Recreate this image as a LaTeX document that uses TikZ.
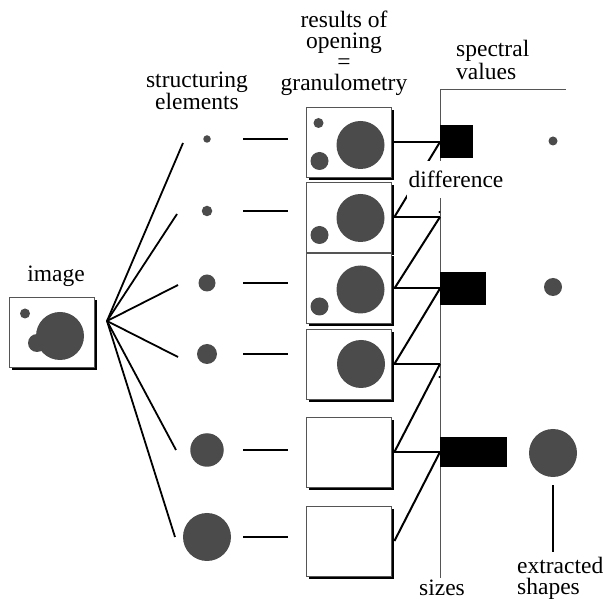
\documentclass[tikz,border=0pt]{standalone}
\usepackage{fontspec}
\setmainfont{Liberation Serif}
\newfontfamily\figfont{Liberation Serif}
\usetikzlibrary{positioning,shadows,calc}
\definecolor{blob}{HTML}{4B4B4B}
\definecolor{axisgray}{HTML}{555555}

\begin{document}
\begin{tikzpicture}[x=1pt, y=-1pt,
    lbl/.style={font=\figfont\fontsize{23.5}{21}\selectfont, inner sep=0pt, align=center},
    frame/.style={draw=axisgray, line width=0.8pt, fill=white, minimum width=85pt,
      minimum height=70pt, inner sep=0pt,
      drop shadow={shadow xshift=3pt, shadow yshift=-3pt, fill=black, opacity=1}},
    dot/.style={circle, fill=blob, inner sep=0pt},
    fan/.style={line width=1.8pt},
    bond/.style={line width=2.6pt},
    link/.style={line width=2pt},
    axis/.style={draw=axisgray, line width=0.9pt},
    bar/.style={fill=black, inner sep=0pt, anchor=west}
  ]
    \useasboundingbox (0,0) rectangle (603,601);
    % input image
    \node[frame] (img) at (51.5,332.5) {};
    \node[dot, minimum size=48pt] at ([shift={(8.5,3.5)}]img.center) {};
    \node[dot, minimum size=18pt] at ([shift={(-14.5,10.5)}]img.center) {};
    \node[dot, minimum size=10pt] at ([shift={(-26.5,-19)}]img.center) {};
    \node[lbl, anchor=base] (imgtxt) at (56,282) {image};
    % structuring elements
    \node[dot, minimum size=7.5pt] (s1) at (207,139) {};
    \node[dot, minimum size=10.5pt] (s2) at (207,211) {};
    \node[dot, minimum size=17pt] (s3) at (207,283) {};
    \node[dot, minimum size=20pt] (s4) at (207,354) {};
    \node[dot, minimum size=33.5pt] (s5) at (207,450) {};
    \node[dot, minimum size=48pt] (s6) at (207,537) {};
    \node[lbl] (setxt) at (197,91) {structuring\\elements};
    % results of opening
    \node[frame] (b1) at (348.5,142) {};
    \node[frame] (b2) at (348.5,217) {};
    \node[frame] (b3) at (348.5,288.5) {};
    \node[frame] (b4) at (348.5,364) {};
    \node[frame] (b5) at (348.5,452) {};
    \node[frame] (b6) at (348.5,541) {};
    \node[dot, minimum size=10pt] at ([shift={(-30,-19)}]b1.center) {};
    \node[dot, minimum size=18pt] at ([shift={(-29,19)}]b1.center) {};
    \node[dot, minimum size=48pt] at ([shift={(12,3)}]b1.center) {};
    \node[dot, minimum size=18pt] at ([shift={(-29,18)}]b2.center) {};
    \node[dot, minimum size=48pt] at ([shift={(12,1)}]b2.center) {};
    \node[dot, minimum size=18pt] at ([shift={(-29,18)}]b3.center) {};
    \node[dot, minimum size=48pt] at ([shift={(12,1)}]b3.center) {};
    \node[dot, minimum size=48pt] at ([shift={(12.5,0)}]b4.center) {};
    \node[lbl] (restxt) at (344,53) {results of\\opening\\=\\granulometry};
    % fan from image to elements
    \coordinate (hub) at (107,321);
    \coordinate (f1) at (183,143);
    \coordinate (f2) at (177,214);
    \coordinate (f3) at (178,285);
    \coordinate (f4) at (178,357);
    \coordinate (f5) at (176,450);
    \coordinate (f6) at (175,537);
    \draw[fan] (hub) -- (f1);
    \draw[fan] (hub) -- (f2);
    \draw[fan] (hub) -- (f3);
    \draw[fan] (hub) -- (f4);
    \draw[fan] (hub) -- (f5);
    \draw[fan] (hub) -- (f6);
    % elements to openings
    \draw[bond] ([xshift=36pt]s1.center) -- ([xshift=81pt]s1.center);
    \draw[bond] ([xshift=36pt]s2.center) -- ([xshift=81pt]s2.center);
    \draw[bond] ([xshift=36pt]s3.center) -- ([xshift=81pt]s3.center);
    \draw[bond] ([xshift=36pt]s4.center) -- ([xshift=81pt]s4.center);
    \draw[bond] ([xshift=36pt]s5.center) -- ([xshift=81pt]s5.center);
    \draw[bond] ([xshift=36pt]s6.center) -- ([xshift=81pt]s6.center);
    % size axis
    \coordinate (axtop) at (440,89);
    \coordinate (axbot) at (440,578);
    \coordinate (axright) at (566,89);
    \draw[axis] (axbot) -- (axtop) -- (axright);
    \coordinate (a1) at (axtop |- b1.center);
    \coordinate (a2) at (axtop |- b2.center);
    \coordinate (a3) at (axtop |- b3.center);
    \coordinate (a4) at (axtop |- b4.center);
    \coordinate (a5) at (axtop |- b5.center);
    \fill (439.5,212) circle (1.2pt);
    \fill (439.5,377) circle (1.2pt);
    % differences of successive openings
    \draw[link] ([xshift=3pt]b1.east) -- (a1);
    \draw[link] ([xshift=3pt]b2.east) -- (a2);
    \draw[link] ([xshift=3pt]b3.east) -- (a3);
    \draw[link] ([xshift=3pt]b4.east) -- (a4);
    \draw[link] ([xshift=3pt]b5.east) -- (a5);
    \draw[link] ([xshift=3pt]b2.east) -- (a1);
    \draw[link] ([xshift=3pt]b3.east) -- (a2);
    \draw[link] ([xshift=3pt]b4.east) -- (a3);
    \draw[link] ([xshift=3pt]b5.east) -- (a4);
    \draw[link] ([xshift=3pt]b6.east) -- (a5);
    % spectral values
    \node[bar, minimum width=33pt, minimum height=33pt] (bar1) at (a1) {};
    \node[bar, minimum width=46pt, minimum height=33pt] (bar2) at (a3) {};
    \node[bar, minimum width=67pt, minimum height=30pt] (bar3) at (a5) {};
    \node[lbl, align=left, anchor=west] (spectxt) at (456,60) {spectral\\values};
    \node[lbl, fill=white, inner xsep=2pt, inner ysep=10pt, anchor=base] (difftxt)
      at (456,188) {difference};
    \node[lbl, anchor=base] (sizetxt) at (442,595) {sizes};
    % extracted shapes
    \node[dot, minimum size=9pt] (x1) at (553,141) {};
    \node[dot, minimum size=18pt] (x2) at (553,287) {};
    \node[dot, minimum size=48pt] (x3) at (553,453) {};
    \node[lbl, align=left, anchor=north west] (exttxt) at (517,557) {extracted\\shapes};
    \coordinate (extend) at (x3.south |- exttxt.north);
    \draw[link] ([yshift=-8pt]x3.south) -- ([yshift=5pt]extend);
  \end{tikzpicture}
\end{document}
